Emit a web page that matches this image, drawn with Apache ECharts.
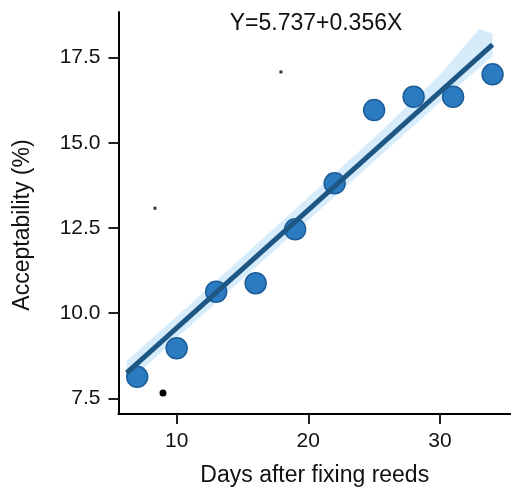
<!DOCTYPE html>
<html lang="en">
	<head>
		<meta charset="UTF-8" />
		<title>Acceptability vs days</title>
		<script src="https://cdn.jsdelivr.net/npm/echarts@6/dist/echarts.min.js"></script>
		<style>
			html, body { margin: 0; padding: 0; background: #fff; }
			#chart { width: 511px; height: 488px; }
		</style>
	</head>
	<body>
		<div id="chart"></div>
		<script type="text/javascript">
		// data
		var days = [7, 10, 13, 16, 19, 22, 25, 28, 31, 34];
		var acceptability = [8.13, 8.97, 10.63, 10.88, 12.46, 13.81, 15.96, 16.35, 16.35, 17.01];
		// fitted line Y=5.737+0.356X, ends as drawn
		var fitX = [6.2, 34.0];
		var fitY = [8.25, 17.88];
		// light confidence band round the line
		var bandX = [6.2, 10, 15, 20, 25, 30, 33, 34];
		var bandLow = [7.92, 9.27, 11.0, 12.73, 14.46, 16.19, 17.2, 17.55];
		var bandHigh = [8.6, 9.9, 11.65, 13.4, 15.15, 17.0, 18.35, 18.2];
		// stray specks in the scan
		var specks = [[8.35, 13.08], [17.92, 17.08]];
		var blackDot = [[8.96, 7.66]];
		var xTicks = [10, 20, 30];
		var yTicks = [7.5, 10, 12.5, 15, 17.5];
		var equation = 'Y=5.737+0.356X';

		var font = "'Liberation Sans', Arial, sans-serif";

		function pairs(xs, ys) {
			var out = [];
			for (var i = 0; i < xs.length; i++) out.push([xs[i], ys[i]]);
			return out;
		}

		var bandData = [];
		for (var i = 0; i < bandX.length; i++) bandData.push([bandX[i], bandLow[i], bandHigh[i]]);

		var myChart = echarts.init(document.getElementById('chart'));
		var option = {
			animation: false,
			grid: { left: 118.5, top: 12, right: 0, bottom: 74, outerBoundsMode: 'none', containLabel: false },
			graphic: [{
				type: 'text', x: 316, y: 23.5,
				style: { text: equation, font: '23px ' + font, fill: '#111', textAlign: 'center', textVerticalAlign: 'middle' }
			}, {
				type: 'text', x: 23, y: 225, rotation: Math.PI / 2,
				style: { text: 'Acceptability (%)', font: '23px ' + font, fill: '#111', textAlign: 'center', textVerticalAlign: 'middle' }
			}],
			xAxis: {
				type: 'value', min: 5.58, max: 35.4,
				name: 'Days after fixing reeds', nameLocation: 'middle', nameGap: 50,
				nameTextStyle: { fontSize: 23, fontFamily: font, color: '#111' },
				axisLine: { lineStyle: { color: '#000', width: 2 } },
				axisTick: { customValues: xTicks, length: 10, lineStyle: { color: '#222', width: 2 } },
				axisLabel: { customValues: xTicks, margin: 17, fontSize: 21, fontFamily: font, color: '#111' },
				splitLine: { show: false }
			},
			yAxis: {
				type: 'value', min: 7.04, max: 18.84,
				axisLine: { show: true, lineStyle: { color: '#000', width: 2 } },
				axisTick: { show: true, customValues: yTicks, length: 10, lineStyle: { color: '#222', width: 2 } },
				axisLabel: {
					customValues: yTicks, margin: 18, fontSize: 21, fontFamily: font, color: '#111',
					formatter: function(v) { return v.toFixed(1); }
				},
				splitLine: { show: false }
			},
			series: [{
				type: 'custom',
				silent: true,
				data: bandData,
				renderItem: function(params, api) {
					if (params.dataIndex !== 0) return;
					var pts = [];
					for (var i = 0; i < bandData.length; i++) pts.push(api.coord([bandData[i][0], bandData[i][2]]));
					for (var j = bandData.length - 1; j >= 0; j--) pts.push(api.coord([bandData[j][0], bandData[j][1]]));
					return { type: 'polygon', shape: { points: pts }, style: { fill: 'rgba(180, 220, 248, 0.55)' } };
				}
			}, {
				type: 'scatter',
				data: pairs(days, acceptability),
				symbolSize: 21,
				itemStyle: { color: '#2b7bc0', borderColor: '#1c5d98', borderWidth: 1.5, opacity: 1 }
			}, {
				type: 'line',
				data: pairs(fitX, fitY),
				symbol: 'none',
				lineStyle: { color: '#1f5784', width: 5 }
			}, {
				type: 'scatter',
				data: specks,
				symbol: 'rect',
				symbolSize: 3,
				itemStyle: { color: '#333', opacity: 1 }
			}, {
				type: 'scatter',
				data: blackDot,
				symbolSize: 7,
				itemStyle: { color: '#000', opacity: 1 }
			}]
		};
		myChart.setOption(option);
		</script>
	</body>
</html>
